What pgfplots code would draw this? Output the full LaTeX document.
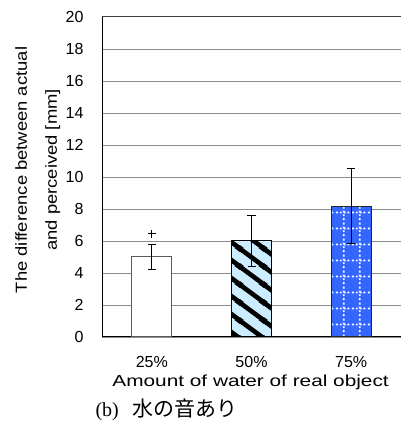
\documentclass[border=0pt]{standalone}
\usepackage{fontspec}
\setmainfont{Liberation Sans}
\newfontfamily\ylfont{Liberation Sans}[FakeStretch=1.15]
\newfontfamily\xlfont{Liberation Sans}[FakeStretch=1.3]
\newfontfamily\seriffont{Liberation Serif}
\newfontfamily\cjk{Noto Sans CJK JP}
\usepackage{pgfplots}
\pgfplotsset{compat=1.18}
\usetikzlibrary{patterns}
\definecolor{lightbar}{RGB}{204,236,255}
\definecolor{bluebar}{RGB}{51,102,255}
\definecolor{gridgray}{RGB}{140,140,140}

\pgfdeclarepatternformonly{thickstripes}{\pgfpoint{0bp}{0bp}}{\pgfpoint{24bp}{18bp}}{\pgfpoint{24bp}{18bp}}{%
  \pgfsetlinewidth{4.8bp}%
  \pgfpathmoveto{\pgfpoint{-6bp}{4.5bp}}\pgfpathlineto{\pgfpoint{6bp}{-4.5bp}}%
  \pgfpathmoveto{\pgfpoint{-4bp}{21bp}}\pgfpathlineto{\pgfpoint{28bp}{-3bp}}%
  \pgfpathmoveto{\pgfpoint{18bp}{22.5bp}}\pgfpathlineto{\pgfpoint{30bp}{13.5bp}}%
  \pgfusepath{stroke}}

\pgfdeclarepatternformonly{dotgrid}{\pgfpoint{0bp}{0bp}}{\pgfpoint{16bp}{16bp}}{\pgfpoint{16bp}{16bp}}{%
  \pgfsetlinewidth{1.8bp}%
  \pgfsetdash{{2bp}{2bp}}{0bp}%
  \pgfpathmoveto{\pgfpoint{8bp}{0bp}}\pgfpathlineto{\pgfpoint{8bp}{16bp}}%
  \pgfpathmoveto{\pgfpoint{0bp}{8bp}}\pgfpathlineto{\pgfpoint{16bp}{8bp}}%
  \pgfusepath{stroke}}

\begin{document}
\begin{tikzpicture}[x=1bp,y=1bp]
\path[use as bounding box] (0,0) rectangle (401,428);
\begin{axis}[
  at={(102bp,91bp)}, anchor=south west,
  scale only axis, width=299bp, height=320bp,
  xmin=-0.5, xmax=2.5, ymin=0, ymax=20,
  axis x line*=bottom, axis y line*=left,
  axis line style={-, black, line width=1bp},
  ytick={0,2,...,18},
  extra y ticks={20},
  extra y tick style={grid style={draw=black!75, line width=1bp}},
  ymajorgrids,
  grid style={draw=gridgray, line width=0.8bp},
  major tick length=0pt,
  xtick={0,1,2},
  xticklabels={25\%,50\%,75\%},
  /pgf/number format/assume math mode=true,
  tick label style={font=\fontsize{16bp}{19bp}\selectfont},
  yticklabel style={xshift=-15bp},
  xticklabel style={yshift=-16bp},
  xlabel={Amount of water of real object},
  every axis x label/.style={at={(axis description cs:0.497,-0.142)}, anchor=center,
     font=\xlfont\fontsize{16bp}{19bp}\selectfont},
  ylabel={The difference between actual\\[11bp]and perceived [mm]},
  every axis y label/.style={at={(axis description cs:-0.215,0.522)}, anchor=center, rotate=90,
     align=center, font=\ylfont\fontsize{16bp}{19bp}\selectfont},
]
\addplot[ybar, bar width=40bp, bar shift=0pt, fill=white, draw=black!65, line width=1bp]
  coordinates {(0,5.0)};
\addplot[ybar, bar width=40bp, bar shift=0pt, fill=lightbar, draw=black, line width=1bp,
  postaction={pattern=thickstripes, pattern color=black}]
  coordinates {(1,6.0)};
\addplot[ybar, bar width=40bp, bar shift=0pt, fill=bluebar, draw=black!85, line width=1bp,
  postaction={pattern=dotgrid, pattern color=white}]
  coordinates {(2,8.18)};
\addplot[draw=none, mark=none, forget plot,
  error bars/.cd, y dir=both, y explicit,
  error bar style={draw=black, line width=1bp},
  error mark options={rotate=90, mark size=4bp, line width=1bp, draw=black}]
  coordinates {(0,5.0) +- (0,0.8) (1,6.0) +- (0,1.58) (2,8.18) +- (0,2.32)};
\addplot[only marks, mark=+, mark size=4bp, black, line width=0.9bp]
  coordinates {(0,6.45)};
\end{axis}
\node[anchor=west] at (92,18) {\seriffont\fontsize{20bp}{24bp}\selectfont (b)\hspace{14bp}\cjk\fontsize{21bp}{24bp}\selectfont 水の音あり};
\end{tikzpicture}
\end{document}
